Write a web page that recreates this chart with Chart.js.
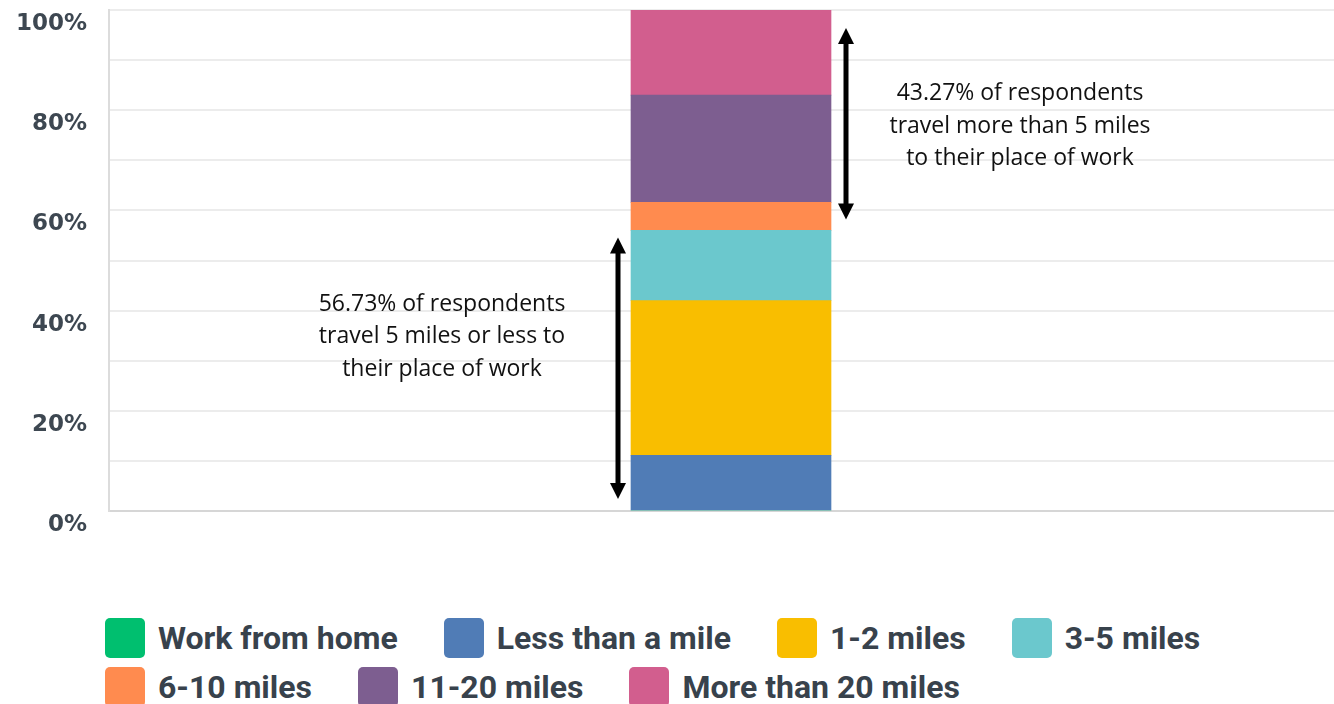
<!DOCTYPE html>
<html>
<head>
<meta charset="utf-8">
<script src="https://cdn.jsdelivr.net/npm/chart.js@4"></script>
<style>
  html, body { margin: 0; padding: 0; background: #fff; overflow: hidden; }
  #wrap { position: relative; width: 1353px; height: 560px; }
  #chart_legend {
    position: absolute; left: 105px; top: 618px; width: 1120px;
    display: flex; flex-wrap: wrap; column-gap: 46px; row-gap: 9px;
    font-family: Roboto, sans-serif; font-weight: 700; font-size: 32px; color: #38424c;
  }
  .legend-item { display: flex; align-items: center; height: 40px; }
  .label-color { width: 40px; height: 40px; border-radius: 5px; margin-right: 13px; }
</style>
</head>
<body>
<div id="wrap"><canvas id="commuteChart"></canvas></div>
<div id="chart_legend"></div>
<script>
const categories = ["Commute distance"];
const seriesLabels = [
  "Work from home",
  "Less than a mile",
  "1-2 miles",
  "3-5 miles",
  "6-10 miles",
  "11-20 miles",
  "More than 20 miles",
];
const seriesValues = [0, 11.1, 30.9, 14.0, 5.6, 21.4, 17.0];
const seriesColors = [
  "#00BF6F",
  "#507CB6",
  "#F9BE00",
  "#6BC8CD",
  "#FF8B4F",
  "#7D5E90",
  "#D25E8E",
];
const tickLabels = ["0%", "20%", "40%", "60%", "80%", "100%"];
const noteLow = ["56.73% of respondents", "travel 5 miles or less to", "their place of work"];
const noteHigh = ["43.27% of respondents", "travel more than 5 miles", "to their place of work"];

const datasets = seriesLabels.map((label, i) => ({
  label: label,
  data: [seriesValues[i]],
  backgroundColor: seriesColors[i],
  borderWidth: 0,
  barThickness: 200,
}));

// arrows + notes either side of the bar
const notesPlugin = {
  id: "notes",
  afterDatasetsDraw(chart) {
    const ctx = chart.ctx;
    const y = chart.scales.y;
    const bar = chart.getDatasetMeta(1).data[0];
    const left = bar.x - bar.width / 2;
    const right = bar.x + bar.width / 2;
    const split = seriesValues.slice(0, 4).reduce((a, b) => a + b, 0);

    const arrow = (x, y1, y2) => {
      const head = 16;
      ctx.save();
      ctx.strokeStyle = "#000";
      ctx.fillStyle = "#000";
      ctx.lineWidth = 5;
      ctx.beginPath();
      ctx.moveTo(x, y1 - head + 2);
      ctx.lineTo(x, y2 + head - 2);
      ctx.stroke();
      ctx.beginPath();
      ctx.moveTo(x, y2);
      ctx.lineTo(x - 8, y2 + head);
      ctx.lineTo(x + 8, y2 + head);
      ctx.closePath();
      ctx.fill();
      ctx.beginPath();
      ctx.moveTo(x, y1);
      ctx.lineTo(x - 8, y1 - head);
      ctx.lineTo(x + 8, y1 - head);
      ctx.closePath();
      ctx.fill();
      ctx.restore();
    };

    arrow(left - 13, y.getPixelForValue(0) - 12, y.getPixelForValue(split) + 7);
    arrow(right + 15, y.getPixelForValue(split) - 11, y.getPixelForValue(100) + 18);

    const note = (lines, cx, cy) => {
      ctx.save();
      ctx.font = "23px 'Open Sans'";
      ctx.fillStyle = "#111";
      ctx.textAlign = "center";
      ctx.textBaseline = "middle";
      lines.forEach((line, i) => {
        ctx.fillText(line, cx, cy + (i - 1) * 32.5);
      });
      ctx.restore();
    };
    note(noteLow, left - 189, y.getPixelForValue(34.8));
    note(noteHigh, right + 189, y.getPixelForValue(76.8));
  },
};

new Chart(document.getElementById("commuteChart"), {
  type: "bar",
  data: {
    labels: categories,
    datasets: datasets,
  },
  options: {
    responsive: true,
    maintainAspectRatio: false,
    animation: false,
    layout: {
      padding: { top: 10, bottom: 49, left: 0, right: 0 },
    },
    plugins: {
      legend: { display: false },
      tooltip: { enabled: false },
    },
    scales: {
      x: {
        stacked: true,
        display: false,
      },
      y: {
        stacked: true,
        min: 0,
        max: 100,
        afterFit: (scale) => {
          scale.width = 109;
          scale.paddingTop = 0;
          scale.paddingBottom = 0;
        },
        ticks: {
          stepSize: 10,
          padding: 22,
          labelOffset: 14,
          color: "#3d4751",
          font: { family: "'DejaVu Sans'", weight: "bold", size: 23 },
          callback: function (value) {
            return value % 20 === 0 ? tickLabels[value / 20] : "";
          },
        },
        grid: {
          drawTicks: false,
          lineWidth: 2,
          color: (c) => (c.tick && c.tick.value === 0 ? "#d6d6d6" : "#ececec"),
        },
        border: {
          display: true,
          color: "#dcdcdc",
          width: 2,
        },
      },
    },
  },
  plugins: [notesPlugin],
});

// html legend
const legendContainer = document.getElementById("chart_legend");
seriesLabels.forEach((label, i) => {
  const item = document.createElement("div");
  item.className = "legend-item";
  item.innerHTML = `<div class="label-color" style="background-color: ${seriesColors[i]};"></div><span>${label}</span>`;
  legendContainer.appendChild(item);
});
</script>
</body>
</html>
